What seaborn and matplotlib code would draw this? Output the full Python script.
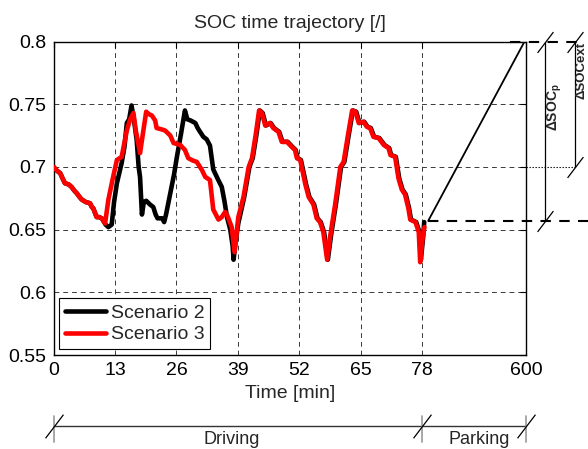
import numpy as np
import pandas as pd
import matplotlib
matplotlib.use("Agg")
import matplotlib.pyplot as plt
import seaborn as sns
from matplotlib.path import Path
from matplotlib import transforms
from matplotlib.lines import Line2D

# ---------------- data ----------------
t_s3 = [0.0, 0.7, 1.4, 2.0, 2.4, 3.2, 3.8, 4.4, 4.9, 5.5, 5.95, 6.8, 7.7, 8.1, 8.4, 9.1, 9.6, 10.2,
        10.9, 11.6, 12.6, 13.4, 14.4, 15.5, 16.2, 16.9, 17.4, 18.3, 19.0, 19.6, 20.2, 20.8, 21.5, 21.8,
        22.8, 23.6, 24.7, 25.4, 26.8, 27.8, 28.5, 29.5, 30.3, 31.4, 32.1, 33.1, 33.8, 34.9, 35.6, 36.3,
        36.8, 37.7, 38.3, 39.1, 40.2, 41.3, 42.0, 42.8, 43.5, 44.1, 44.8, 45.8, 46.5, 47.6, 48.3, 49.4,
        50.4, 51.1, 51.5, 52.2, 53.3, 54.0, 55.0, 55.7, 56.4, 57.1, 57.9, 58.6, 59.6, 60.7, 61.4, 62.3,
        63.2, 63.9, 64.6, 65.6, 66.3, 67.0, 67.7, 68.8, 69.9, 70.9, 71.3, 72.3, 73.0, 73.7, 74.4, 75.1,
        75.5, 76.6, 77.3, 77.6, 78.1, 78.5]
soc_s3 = [0.700, 0.697, 0.695, 0.690, 0.687, 0.686, 0.684, 0.681, 0.679, 0.676, 0.674, 0.672, 0.671,
          0.668, 0.667, 0.660, 0.660, 0.659, 0.655, 0.674, 0.692, 0.7055, 0.708, 0.729, 0.738, 0.743,
          0.729, 0.711, 0.729, 0.744, 0.742, 0.741, 0.737, 0.731, 0.730, 0.729, 0.725, 0.719, 0.7175,
          0.7135, 0.707, 0.705, 0.704, 0.6975, 0.692, 0.6895, 0.666, 0.658, 0.660, 0.664, 0.661, 0.652,
          0.632, 0.660, 0.676, 0.700, 0.707, 0.726, 0.745, 0.743, 0.733, 0.735, 0.731, 0.728, 0.720,
          0.720, 0.716, 0.7135, 0.707, 0.7055, 0.686, 0.676, 0.670, 0.659, 0.656, 0.648, 0.626, 0.646,
          0.670, 0.700, 0.704, 0.725, 0.745, 0.744, 0.735, 0.736, 0.732, 0.731, 0.724, 0.723, 0.7175,
          0.715, 0.7095, 0.708, 0.691, 0.682, 0.678, 0.667, 0.658, 0.656, 0.648, 0.624, 0.643, 0.652]

t_s2 = [0.0, 0.7, 1.4, 2.0, 2.4, 3.2, 3.8, 4.4, 4.9, 5.5, 5.95, 6.8, 7.7, 8.1, 8.4, 9.1, 9.6, 10.2,
        11.0, 11.6, 12.3, 12.8, 13.4, 14.4, 15.0, 15.5, 16.0, 16.5, 17.1, 17.6, 18.0, 18.3, 18.7, 19.1,
        19.6, 20.4, 21.1, 21.6, 22.0, 23.0, 23.4, 23.8, 24.7, 25.5, 26.1, 27.0, 27.8, 28.3, 29.0, 30.0,
        30.5, 31.0, 31.7, 32.4, 33.1, 33.8, 34.8, 35.6, 36.2, 36.7, 37.4, 37.9, 38.1, 38.5, 39.1,
        40.35, 41.45, 42.15, 42.95, 43.65, 44.25, 44.95, 45.95, 46.65, 47.75, 48.45, 49.55, 50.55,
        51.25, 51.65, 52.35, 53.45, 54.15, 55.15, 55.85, 56.55, 57.25, 58.05, 58.75, 59.75, 60.85,
        61.55, 62.45, 63.35, 64.05, 64.75, 65.75, 66.45, 67.15, 67.85, 68.95, 70.05, 71.05, 71.45,
        72.45, 73.15, 73.85, 74.55, 75.25, 75.65, 76.75, 77.45, 77.75, 78.25, 78.45]
soc_s2 = [0.700, 0.697, 0.695, 0.690, 0.687, 0.686, 0.684, 0.681, 0.679, 0.676, 0.674, 0.672, 0.671,
          0.668, 0.667, 0.660, 0.660, 0.659, 0.654, 0.652, 0.654, 0.672, 0.687, 0.703, 0.716, 0.735,
          0.738, 0.749, 0.735, 0.721, 0.700, 0.692, 0.662, 0.672, 0.673, 0.670, 0.668, 0.662, 0.659,
          0.659, 0.656, 0.662, 0.679, 0.694, 0.708, 0.727, 0.745, 0.738, 0.737, 0.735, 0.731, 0.728,
          0.724, 0.722, 0.717, 0.698, 0.690, 0.684, 0.672, 0.660, 0.650, 0.637, 0.626, 0.640, 0.655,
          0.676, 0.700, 0.707, 0.726, 0.745, 0.743, 0.733, 0.735, 0.731, 0.728, 0.720, 0.720, 0.716,
          0.7135, 0.707, 0.7055, 0.686, 0.676, 0.670, 0.659, 0.656, 0.648, 0.626, 0.646, 0.670, 0.700,
          0.704, 0.725, 0.745, 0.744, 0.735, 0.736, 0.732, 0.731, 0.724, 0.723, 0.7175, 0.715, 0.7095,
          0.708, 0.691, 0.682, 0.678, 0.667, 0.658, 0.656, 0.648, 0.626, 0.645, 0.656]

scenario_names = ["Scenario 2", "Scenario 3"]
scenario_colors = ["#000000", "#ff0000"]

x_ticks = [0, 13, 26, 39, 52, 65, 78, 600]
x_tick_labels = ["0", "13", "26", "39", "52", "65", "78", "600"]
y_ticks = [0.55, 0.6, 0.65, 0.7, 0.75, 0.8]
y_tick_labels = ["0.55", "0.6", "0.65", "0.7", "0.75", "0.8"]

soc_after_drive = 0.657
soc_full = 0.8
soc_ext_low = 0.7
charge_start, charge_end = 79.3, 592
drive_end, park_end = 78, 600

# ---------------- style ----------------
sns.set_style("white")
plt.rcParams["font.family"] = ["Liberation Sans", "DejaVu Sans"]
plt.rcParams["mathtext.fontset"] = "custom"
plt.rcParams["mathtext.rm"] = "Liberation Sans"
plt.rcParams["mathtext.bf"] = "Liberation Sans:bold"
FS = 14

fig = plt.figure(figsize=(5.88, 4.49), dpi=100)
ax = fig.add_axes([53.6 / 588, 1 - 355 / 449, (526 - 53.6) / 588, (355 - 41.5) / 449])

BREAK = 80.0
def fwd(t):
    t = np.asarray(t, dtype=float)
    return np.where(t <= BREAK, t, BREAK + (t - BREAK) * 20.0 / 520.0)
def inv(u):
    u = np.asarray(u, dtype=float)
    return np.where(u <= BREAK, u, BREAK + (u - BREAK) * 520.0 / 20.0)
ax.set_xscale("function", functions=(fwd, inv))

df = pd.concat([
    pd.DataFrame({"t": t_s2, "soc": soc_s2, "scenario": scenario_names[0]}),
    pd.DataFrame({"t": t_s3, "soc": soc_s3, "scenario": scenario_names[1]}),
], ignore_index=True)

sns.lineplot(data=df, x="t", y="soc", hue="scenario", palette=dict(zip(scenario_names, scenario_colors)),
             estimator=None, sort=False, lw=3.3, ax=ax, legend=False, zorder=3)

ax.set_xlim(0, 600)
ax.set_ylim(0.55, 0.8)
ax.set_xticks(x_ticks)
ax.set_xticklabels(x_tick_labels)
ax.set_yticks(y_ticks)
ax.set_yticklabels(y_tick_labels)
ax.xaxis.set_minor_locator(matplotlib.ticker.NullLocator())
ax.tick_params(direction="in", length=4, width=0.8, labelsize=FS, top=True, right=True,
               colors="black", pad=5)
for s in ax.spines.values():
    s.set_color("black")
    s.set_linewidth(1.0)
ax.grid(True, color="#3a3a3a", lw=0.7, ls=(0, (5, 4)))
ax.set_axisbelow(True)

ax.set_xlabel("Time [min]", fontsize=FS, labelpad=4)
ax.set_ylabel("")
ax.set_title("SOC time trajectory [/]", fontsize=FS, pad=10)

# legend
handles = [Line2D([], [], color=c, lw=3.3) for c in scenario_colors]
leg = ax.legend(handles, scenario_names, loc="lower left", fontsize=FS, frameon=True, fancybox=False,
                edgecolor="black", framealpha=1, borderpad=0.3, handlelength=2.1, handletextpad=0.25,
                labelspacing=0.2, borderaxespad=0.3)
leg.get_frame().set_linewidth(0.8)

# ---------------- charging annotation ----------------
ax.plot([charge_start, charge_end], [soc_after_drive, soc_full], color="black", lw=1.3, zorder=4)

blend = transforms.blended_transform_factory(ax.transAxes, ax.transData)
dash = (0, (5, 4))
ax.plot([0.7925, 1.135], [soc_after_drive] * 2, color="black", lw=1.5, ls=dash,
        transform=blend, clip_on=False, zorder=4)
ax.plot([0.966, 1.121], [soc_full] * 2, color="black", lw=1.5, ls=dash,
        transform=blend, clip_on=False, zorder=4)
ax.plot([1.0, 1.104], [soc_ext_low] * 2, color="black", lw=0.8, ls=(0, (1.2, 1.5)),
        transform=blend, clip_on=False)
ax.plot([1.040, 1.040], [soc_after_drive, soc_full], color="black", lw=0.9,
        transform=blend, clip_on=False)
ax.plot([1.104, 1.104], [soc_ext_low, soc_full], color="black", lw=0.9,
        transform=blend, clip_on=False)

slash = Path([(-0.38, -0.5), (0.38, 0.5)])
ax.plot([1.040, 1.040, 1.104, 1.104], [soc_full, soc_after_drive, soc_full, soc_ext_low],
        ls="none", marker=slash, ms=15, mew=0.9, color="black", fillstyle="none",
        transform=blend, clip_on=False)

ax.text(1.0614, 0.7478, r"ΔSOC$_\mathbf{p}$", rotation=90, fontsize=10, fontweight="bold",
        ha="center", va="center", transform=blend, clip_on=False)
ax.text(1.1175, 0.7773, "ΔSOCext", rotation=90, fontsize=9.5, fontweight="bold",
        ha="center", va="center", transform=blend, clip_on=False)

# ---------------- driving / parking timeline ----------------
btf = transforms.blended_transform_factory(ax.transData, fig.transFigure)
y_line = 1 - 426 / 449
ax.plot([0, park_end], [y_line, y_line], color="#333333", lw=1.0, transform=btf, clip_on=False)
for xp in [0, drive_end, park_end]:
    ax.plot([xp, xp], [1 - 442 / 449, 1 - 416 / 449], color="#999999", lw=1.2,
            transform=btf, clip_on=False)
ax.plot([0, drive_end, park_end], [y_line] * 3, ls="none", marker=slash, ms=17, mew=0.9,
        color="black", fillstyle="none", transform=btf, clip_on=False)
ax.text(37.7, 1 - 439 / 449, "Driving", fontsize=13, ha="center", va="center", transform=btf)
ax.text(343, 1 - 439 / 449, "Parking", fontsize=13, ha="center", va="center", transform=btf)

fig.savefig("out.png", dpi=100)
